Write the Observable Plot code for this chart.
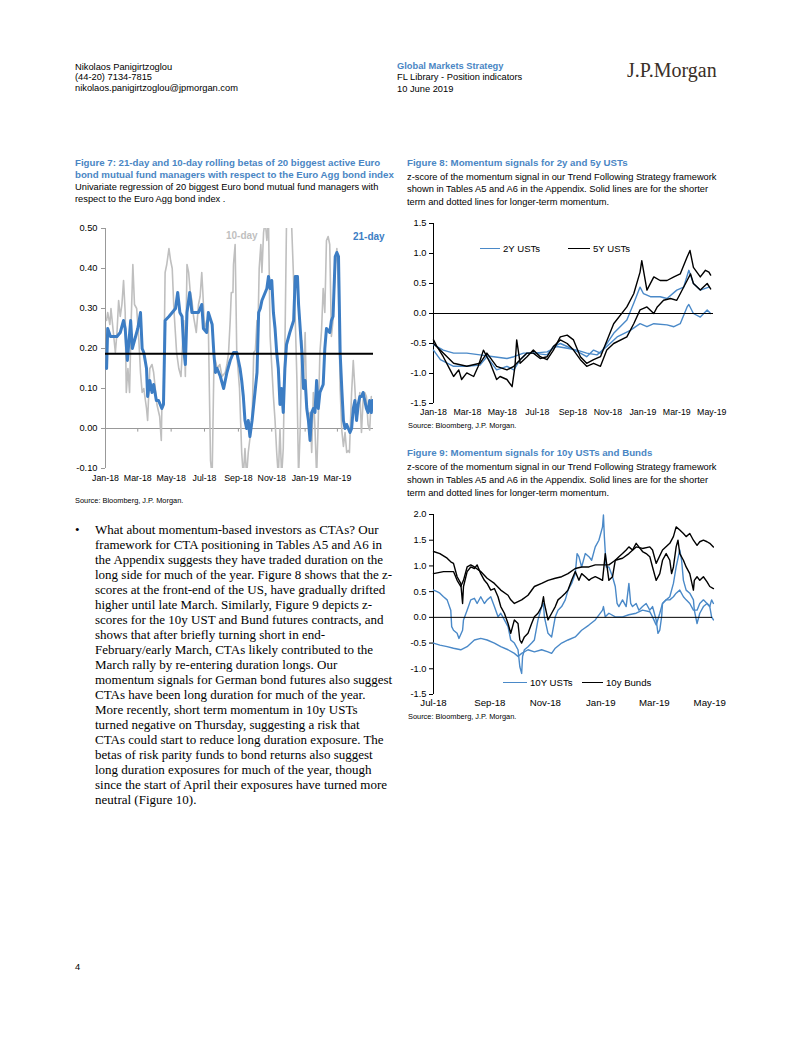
<!DOCTYPE html>
<html><head><meta charset="utf-8">
<script src="https://cdn.jsdelivr.net/npm/d3@7"></script>
<script src="https://cdn.jsdelivr.net/npm/@observablehq/plot@0.6"></script>
<style>
html,body{margin:0;padding:0;background:#fff;}
body{width:802px;height:1037px;position:relative;overflow:hidden;font-family:"Liberation Sans",Arial,sans-serif;color:#000;}
.a{position:absolute;white-space:nowrap;}
.hdr{font-size:9.3px;line-height:10.7px;}
.ttl{font-weight:bold;color:#4A86C4;font-size:9.7px;line-height:12px;}
.sub{font-size:9.3px;line-height:12.6px;}
.src{font-size:7.4px;}
.body{font-family:"Liberation Serif","Times New Roman",serif;font-size:13px;line-height:15px;}
.leg{font-size:9.6px;line-height:12px;}
.sw{position:absolute;height:0;}
</style></head><body>

<div class="a hdr" style="left:75px;top:61.5px;">Nikolaos Panigirtzoglou<br>(44-20) 7134-7815<br>nikolaos.panigirtzoglou@jpmorgan.com</div>
<div class="a hdr" style="left:397px;top:60.5px;color:#4A86C4;font-weight:bold;">Global Markets Strategy</div>
<div class="a hdr" style="left:397px;top:71.5px;">FL Library - Position indicators</div>
<div class="a hdr" style="left:397px;top:84px;">10 June 2019</div>
<div class="a" style="left:627px;top:59px;font-family:'Liberation Serif',serif;font-size:20px;line-height:22px;color:#3a2f27;">J.P.Morgan</div>

<div class="a ttl" style="left:75px;top:157px;">Figure 7: 21-day and 10-day rolling betas of 20 biggest active Euro<br>bond mutual fund managers with respect to the Euro Agg bond index</div>
<div class="a sub" style="left:75px;top:181px;line-height:12px;">Univariate regression of 20 biggest Euro bond mutual fund managers with<br>respect to the Euro Agg bond index .</div>
<div id="f7" class="a" style="left:58px;top:218px;"></div>
<div class="a" style="left:226px;top:230px;font-size:10px;font-weight:bold;color:#BFBFBF;">10-day</div>
<div class="a" style="left:353px;top:231px;font-size:10px;font-weight:bold;color:#3C7DC4;">21-day</div>
<div class="a src" style="left:75px;top:495.5px;">Source: Bloomberg, J.P. Morgan.</div>

<div class="a ttl" style="left:407px;top:157px;">Figure 8: Momentum signals for 2y and 5y USTs</div>
<div class="a sub" style="left:407px;top:170.5px;">z-score of the momentum signal in our Trend Following Strategy framework<br>shown in Tables A5 and A6 in the Appendix. Solid lines are for the shorter<br>term and dotted lines for longer-term momentum.</div>
<div id="f8" class="a" style="left:405px;top:213px;"></div>
<div class="sw" style="left:480px;top:248px;width:20px;border-top:1.5px solid #4A89C8;"></div>
<div class="a leg" style="left:503px;top:243px;">2Y USTs</div>
<div class="sw" style="left:568px;top:248px;width:22px;border-top:1.5px solid #000;"></div>
<div class="a leg" style="left:593px;top:243px;">5Y USTs</div>
<div class="a src" style="left:408px;top:421px;">Source: Bloomberg, J.P. Morgan.</div>

<div class="a ttl" style="left:407px;top:447px;">Figure 9: Momentum signals for 10y USTs and Bunds</div>
<div class="a sub" style="left:407px;top:460.5px;line-height:13.3px;">z-score of the momentum signal in our Trend Following Strategy framework<br>shown in Tables A5 and A6 in the Appendix. Solid lines are for the shorter<br>term and dotted lines for longer-term momentum.</div>
<div id="f9" class="a" style="left:405px;top:505px;"></div>
<div class="sw" style="left:503px;top:682px;width:24px;border-top:1.5px solid #4A89C8;"></div>
<div class="a leg" style="left:530px;top:677px;">10Y USTs</div>
<div class="sw" style="left:582px;top:682px;width:21px;border-top:1.5px solid #000;"></div>
<div class="a leg" style="left:606px;top:677px;">10y Bunds</div>
<div class="a src" style="left:408px;top:711.5px;">Source: Bloomberg, J.P. Morgan.</div>

<div class="a body" style="left:75px;top:521.5px;">•</div>
<div class="a body" style="left:95px;top:521.5px;">What about momentum-based investors as CTAs? Our<br>framework for CTA positioning in Tables A5 and A6 in<br>the Appendix suggests they have traded duration on the<br>long side for much of the year. Figure 8 shows that the z-<br>scores at the front-end of the US, have gradually drifted<br>higher until late March. Similarly, Figure 9 depicts z-<br>scores for the 10y UST and Bund futures contracts, and<br>shows that after briefly turning short in end-<br>February/early March, CTAs likely contributed to the<br>March rally by re-entering duration longs. Our<br>momentum signals for German bond futures also suggest<br>CTAs have been long duration for much of the year.<br>More recently, short term momentum in 10y USTs<br>turned negative on Thursday, suggesting a risk that<br>CTAs could start to reduce long duration exposure. The<br>betas of risk parity funds to bond returns also suggest<br>long duration exposures for much of the year, though<br>since the start of April their exposures have turned more<br>neutral (Figure 10).</div>

<div class="a hdr" style="left:75px;top:962px;">4</div>

<script>
// ---------- Figure 7 data: [days since 2018-01-01, beta] ----------
const f7Start = "2018-01-01";
const f7End = "2019-05-06";
const f7Beta21 = [[2,0.15],[4,0.25],[9,0.23],[15,0.23],[21,0.23],[27,0.24],[33,0.27],[36,0.25],[40,0.17],[43,0.22],[46,0.27],[49,0.20],[55,0.23],[59,0.25],[64,0.29],[67,0.20],[70,0.19],[75,0.15],[77,0.08],[81,0.12],[85,0.09],[88,0.11],[93,0.07],[97,0.07],[103,0.05],[106,0.06],[109,0.27],[116,0.28],[122,0.29],[128,0.30],[132,0.34],[136,0.29],[140,0.28],[143,0.20],[146,0.16],[149,0.29],[154,0.34],[158,0.29],[164,0.29],[170,0.29],[176,0.31],[179,0.25],[185,0.24],[188,0.29],[195,0.26],[198,0.19],[201,0.14],[204,0.15],[210,0.13],[216,0.10],[222,0.14],[228,0.17],[234,0.19],[240,0.19],[246,0.15],[249,0.12],[252,0.08],[255,0.02],[258,0.00],[261,0.02],[264,-0.02],[268,0.02],[271,0.06],[277,0.14],[280,0.29],[283,0.30],[286,0.32],[292,0.34],[295,0.35],[298,0.38],[301,0.35],[304,0.37],[307,0.29],[310,0.25],[313,0.19],[316,0.15],[319,0.06],[322,0.10],[325,0.04],[328,0.15],[331,0.21],[337,0.24],[344,0.27],[347,0.38],[351,0.38],[353,0.31],[356,0.25],[359,0.19],[362,0.10],[365,0.12],[368,0.05],[371,0.02],[374,-0.03],[377,0.04],[380,0.05],[383,0.04],[386,0.12],[389,0.05],[392,0.09],[398,0.11],[401,0.20],[404,0.25],[410,0.24],[413,0.27],[416,0.28],[420,0.43],[423,0.44],[426,0.43],[429,0.19],[432,0.10],[435,0.02],[438,0.00],[441,0.01],[447,-0.01],[450,0.00],[453,0.05],[456,0.07],[459,0.02],[462,0.06],[465,0.08],[468,0.08],[471,0.09],[477,0.05],[480,0.04],[483,0.07],[486,0.04],[488,0.07]];
const f7Beta10 = [[2,0.27],[4,0.29],[8,0.26],[10,0.30],[14,0.245],[18,0.19],[21,0.24],[24,0.32],[27,0.28],[30,0.31],[33,0.37],[36,0.29],[38,0.09],[41,0.15],[44,0.09],[47,0.27],[50,0.41],[53,0.31],[57,0.30],[61,0.22],[64,0.14],[67,0.09],[70,0.10],[75,0.05],[77,0.02],[81,0.15],[85,0.16],[88,0.14],[94,0.06],[99,0.03],[102,-0.03],[103,0.05],[106,0.07],[109,0.39],[112,0.41],[116,0.45],[119,0.42],[122,0.40],[125,0.30],[130,0.19],[134,0.15],[138,0.13],[143,0.27],[146,0.13],[149,0.41],[152,0.39],[155,0.34],[158,0.32],[161,0.28],[166,0.24],[170,0.31],[173,0.33],[176,0.39],[178,0.34],[181,0.25],[185,0.27],[188,0.26],[192,-0.08],[195,-0.12],[198,0.14],[201,0.17],[204,0.15],[209,0.16],[213,0.13],[219,0.14],[222,0.16],[225,0.19],[228,0.27],[230,0.34],[233,0.34],[234,0.41],[237,0.46],[240,0.19],[245,0.10],[249,-0.06],[252,-0.12],[255,-0.05],[258,-0.12],[261,-0.06],[268,0.02],[271,0.19],[274,0.195],[277,0.27],[278,0.20],[281,0.40],[284,0.46],[286,0.39],[289,0.49],[292,0.52],[295,0.47],[298,0.52],[301,0.23],[307,0.08],[310,0.02],[313,-0.06],[316,-0.12],[319,0.00],[322,-0.12],[325,-0.05],[328,0.20],[331,0.52],[334,0.52],[337,0.52],[340,0.52],[344,0.37],[347,0.27],[350,0.12],[353,-0.12],[354,-0.08],[356,0.00],[359,0.22],[362,0.12],[365,0.24],[368,0.05],[371,0.02],[374,0.04],[377,-0.06],[380,0.09],[383,0.00],[386,-0.12],[389,0.02],[392,0.19],[395,0.245],[398,0.35],[401,0.29],[404,0.47],[407,0.48],[410,0.46],[413,0.23],[416,0.27],[420,0.41],[423,0.45],[426,0.35],[429,0.10],[432,-0.004],[435,-0.045],[438,-0.01],[441,-0.06],[444,-0.055],[446,-0.06],[448,0.02],[450,0.09],[453,0.17],[456,0.10],[459,0.02],[462,0.05],[465,0.09],[468,-0.01],[471,0.07],[474,0.09],[477,0.08],[480,0.01],[483,-0.004],[486,0.08]];
const f7Average = [0.187];
const f7XTicks = ["2018-01-01","2018-03-01","2018-05-01","2018-07-01","2018-09-01","2018-11-01","2019-01-01","2019-03-01"];
const f7YTicks = [-0.1,0,0.1,0.2,0.3,0.4,0.5];

// ---------- Figure 8 data: [days since 2018-01-01, z-score] ----------
const f8Start = "2018-01-01";
const f8End = "2019-05-04";
const f8TwoYShort = [[0,-0.61],[12,-0.77],[35,-0.88],[58,-0.88],[81,-0.86],[93,-0.72],[110,-0.94],[128,-0.88],[140,-0.94],[151,-0.77],[163,-0.66],[174,-0.66],[198,-0.69],[209,-0.55],[221,-0.50],[233,-0.55],[256,-0.66],[267,-0.72],[279,-0.61],[291,-0.66],[314,-0.33],[337,-0.11],[349,0.17],[360,0.44],[366,0.33],[378,0.28],[395,0.28],[407,0.25],[424,0.39],[436,0.44],[445,0.72],[453,0.50],[465,0.39],[480,0.44]];
const f8TwoYLong = [[0,-0.52],[17,-0.61],[35,-0.66],[58,-0.66],[81,-0.69],[105,-0.72],[128,-0.75],[140,-0.72],[157,-0.66],[174,-0.66],[198,-0.64],[215,-0.55],[233,-0.58],[250,-0.61],[267,-0.66],[285,-0.69],[302,-0.55],[320,-0.39],[343,-0.28],[360,-0.17],[372,-0.22],[384,-0.17],[407,-0.19],[419,-0.22],[430,-0.17],[442,0.11],[445,0.15],[453,0.00],[465,-0.06],[477,0.06],[483,0.00]];
const f8FiveYShort = [[0,-0.44],[6,-0.55],[17,-0.72],[29,-0.94],[35,-1.05],[44,-0.94],[49,-1.10],[58,-0.99],[70,-1.05],[78,-0.88],[87,-0.61],[99,-0.83],[110,-1.10],[116,-1.05],[128,-1.10],[137,-1.22],[142,-0.88],[145,-0.44],[151,-0.83],[163,-0.72],[174,-0.61],[186,-0.72],[198,-0.77],[209,-0.61],[221,-0.39],[233,-0.36],[244,-0.44],[256,-0.72],[267,-0.83],[279,-0.77],[291,-0.72],[314,-0.17],[337,0.11],[349,0.33],[360,0.69],[363,0.88],[372,0.39],[384,0.61],[395,0.55],[407,0.55],[419,0.61],[430,0.66],[442,0.94],[447,1.05],[453,0.77],[465,0.61],[474,0.72],[480,0.69],[483,0.64]];
const f8FiveYLong = [[0,-0.50],[17,-0.66],[35,-0.83],[58,-0.88],[81,-0.83],[93,-0.66],[110,-0.88],[128,-0.94],[140,-0.88],[151,-0.77],[163,-0.66],[174,-0.66],[186,-0.75],[198,-0.72],[209,-0.55],[221,-0.44],[233,-0.50],[244,-0.61],[256,-0.77],[267,-0.88],[279,-0.83],[291,-0.88],[302,-0.61],[314,-0.50],[337,-0.39],[349,-0.17],[360,0.06],[372,0.11],[384,0.00],[390,0.11],[401,0.22],[413,0.25],[424,0.22],[430,0.33],[442,0.55],[448,0.66],[453,0.50],[465,0.39],[477,0.50],[483,0.41]];
const f8XTicks = ["2018-01-01","2018-03-01","2018-05-01","2018-07-01","2018-09-01","2018-11-01","2019-01-01","2019-03-01","2019-05-01"];
const f8YTicks = [-1.5,-1,-0.5,0,0.5,1,1.5];

// ---------- Figure 9 data: [days since 2018-07-01, z-score] ----------
const f9Start = "2018-07-01";
const f9End = "2019-05-04";
const f9UstShort = [[0,0.53],[4,0.50],[7,0.47],[11,0.40],[15,0.34],[19,0.14],[20,-0.18],[22,-0.25],[26,-0.31],[28,-0.41],[32,-0.25],[33,-0.05],[37,0.14],[41,0.34],[45,0.37],[48,0.27],[52,0.40],[56,0.27],[59,0.34],[63,0.40],[67,0.21],[71,0.01],[74,0.08],[78,-0.05],[82,-0.18],[85,-0.44],[89,-0.50],[93,-0.63],[95,-0.96],[97,-1.09],[98,-0.76],[100,-0.63],[104,-0.57],[108,-0.50],[111,-0.44],[115,-0.05],[119,0.21],[121,0.27],[122,0.01],[126,-0.31],[130,-0.38],[134,0.01],[137,0.14],[141,0.21],[145,0.34],[148,0.53],[152,0.66],[156,0.85],[158,1.24],[160,1.18],[163,0.98],[167,1.24],[171,1.18],[174,1.11],[178,1.37],[182,1.50],[186,1.76],[187,1.99],[188,1.57],[190,0.98],[193,0.98],[197,0.79],[200,0.60],[202,0.27],[204,0.21],[208,0.34],[212,0.21],[215,0.66],[217,0.27],[219,0.21],[223,0.27],[226,0.14],[230,0.21],[234,0.27],[238,0.14],[241,0.21],[245,-0.05],[247,-0.31],[249,-0.25],[251,0.01],[252,0.27],[256,0.34],[260,0.40],[264,0.66],[267,0.98],[271,1.31],[273,1.11],[275,0.72],[278,0.53],[282,0.47],[286,0.34],[287,0.14],[290,-0.12],[293,0.08],[297,0.21],[301,0.27],[304,0.21],[306,0.01],[308,-0.05]];
const f9UstLong = [[0,-0.50],[7,-0.54],[15,-0.57],[22,-0.60],[30,-0.63],[37,-0.57],[45,-0.44],[52,-0.41],[59,-0.44],[67,-0.50],[74,-0.57],[82,-0.63],[89,-0.70],[93,-0.76],[97,-0.70],[104,-0.63],[111,-0.67],[119,-0.63],[126,-0.67],[130,-0.70],[134,-0.60],[141,-0.50],[148,-0.44],[156,-0.38],[163,-0.25],[171,-0.15],[178,-0.05],[186,0.14],[187,0.21],[189,0.01],[193,0.08],[200,0.01],[208,0.01],[215,0.05],[223,0.08],[230,0.14],[238,0.11],[241,0.01],[245,-0.15],[249,0.08],[252,0.27],[256,0.34],[260,0.34],[264,0.40],[267,0.47],[271,0.53],[275,0.40],[278,0.34],[282,0.27],[286,0.14],[290,0.14],[293,0.27],[297,0.34],[301,0.27],[304,0.21],[306,0.34],[308,0.27]];
const f9BundShort = [[0,1.28],[7,1.24],[15,1.15],[19,1.08],[22,1.05],[26,0.79],[30,0.66],[32,0.27],[33,0.60],[37,0.89],[41,0.98],[45,0.95],[48,1.02],[52,0.85],[56,0.72],[59,0.66],[63,0.53],[67,0.56],[71,0.40],[74,0.21],[78,0.08],[82,-0.12],[85,-0.31],[87,-0.18],[89,-0.05],[93,-0.12],[95,-0.44],[97,-0.50],[100,-0.38],[104,-0.31],[108,-0.12],[111,0.01],[115,0.08],[119,0.21],[121,0.40],[122,0.27],[126,-0.05],[130,0.08],[134,0.21],[137,0.34],[141,0.40],[145,0.47],[148,0.53],[152,0.72],[156,0.89],[160,0.72],[163,0.85],[167,0.79],[171,0.72],[174,0.76],[178,0.79],[182,0.76],[186,0.72],[189,1.24],[191,0.98],[193,0.72],[197,0.79],[200,1.11],[204,1.18],[208,1.24],[212,1.31],[215,1.37],[219,1.31],[223,1.44],[226,1.37],[230,1.28],[234,1.24],[238,1.18],[241,0.98],[245,0.72],[249,0.85],[252,1.11],[256,1.24],[260,1.11],[262,0.85],[264,0.98],[267,1.37],[269,1.50],[271,1.24],[275,1.11],[278,0.98],[282,0.85],[286,0.53],[287,0.72],[290,0.79],[293,0.72],[297,0.79],[301,0.69],[304,0.60],[308,0.56]];
const f9BundLong = [[0,0.85],[11,0.89],[22,0.89],[26,0.72],[30,0.60],[33,0.72],[37,0.98],[41,1.02],[45,0.98],[52,0.89],[59,0.76],[67,0.66],[74,0.53],[82,0.43],[85,0.34],[89,0.27],[97,0.34],[104,0.43],[111,0.60],[119,0.66],[126,0.72],[134,0.76],[141,0.79],[148,0.85],[156,0.95],[163,0.98],[171,0.98],[178,1.02],[186,1.02],[193,1.02],[200,1.11],[208,1.15],[215,1.24],[223,1.37],[230,1.34],[238,1.37],[241,1.31],[245,1.05],[252,1.31],[260,1.44],[264,1.57],[267,1.76],[271,1.70],[275,1.63],[278,1.57],[282,1.63],[286,1.50],[290,1.40],[293,1.47],[297,1.50],[301,1.47],[304,1.44],[308,1.37]];
const f9XTicks = ["2018-07-01","2018-09-01","2018-11-01","2019-01-01","2019-03-01","2019-05-01"];
const f9YTicks = [-1.5,-1,-0.5,0,0.5,1,1.5,2];

// ---------- helpers ----------
const BLUE = "#4A89C8";
const parse = s => new Date(s + "T00:00:00Z");
const rows = (arr, start) => { const b = parse(start); return arr.map(([d, v]) => ({date: d3.utcDay.offset(b, d), value: v})); };
const fmtMonth = d3.utcFormat("%b-%y");
const FONT = {fontFamily: "'Liberation Sans', Arial, sans-serif", fontSize: "9px", color: "#000", background: "transparent", overflow: "visible"};

// ---------- Figure 7 ----------
const f7 = Plot.plot({
  width: 330, height: 270, marginLeft: 47, marginRight: 15, marginTop: 10, marginBottom: 20,
  style: FONT,
  x: {type: "utc", domain: [parse(f7Start), parse(f7End)], label: null},
  y: {domain: [-0.1, 0.5], label: null},
  marks: [
    Plot.ruleY([0], {stroke: "#999", strokeWidth: 1}),
    Plot.ruleX(f7XTicks.map(parse), {y1: 0, y2: -0.009, stroke: "#999"}),
    Plot.ruleX([parse(f7Start)], {stroke: "#999"}),
    Plot.axisY({ticks: f7YTicks, tickFormat: d => d.toFixed(2), tickSize: 4, tickPadding: 4, stroke: "#999", fill: "#000", fontSize: 9.3}),
    Plot.axisX({ticks: f7XTicks.map(parse), tickFormat: fmtMonth, tickSize: 0, tickPadding: 6, fill: "#000", fontSize: 8.8}),
    Plot.line(rows(f7Beta10, f7Start), {x: "date", y: "value", stroke: "#BFBFBF", strokeWidth: 1.6, clip: true}),
    Plot.line(rows(f7Beta21, f7Start), {x: "date", y: "value", stroke: "#3C7DC4", strokeWidth: 3, clip: true}),
    Plot.ruleY(f7Average, {stroke: "#000", strokeWidth: 2})
  ]
});
document.getElementById("f7").appendChild(f7);

// ---------- Figure 8 ----------
const f8 = Plot.plot({
  width: 320, height: 205, marginLeft: 28, marginRight: 12, marginTop: 10, marginBottom: 15,
  style: FONT,
  x: {type: "utc", domain: [parse(f8Start), parse(f8End)], label: null},
  y: {domain: [-1.5, 1.5], label: null},
  marks: [
    Plot.ruleX([parse(f8Start)], {stroke: "#000"}),
    Plot.axisY({ticks: f8YTicks, tickFormat: d => d.toFixed(1), tickSize: 4, tickPadding: 3, stroke: "#000", fill: "#000", fontSize: 9.3}),
    Plot.axisX({ticks: f8XTicks.map(parse), tickFormat: fmtMonth, tickSize: 0, tickPadding: 5.5, fill: "#000", fontSize: 8.8}),
    Plot.line(rows(f8TwoYLong, f8Start), {x: "date", y: "value", stroke: BLUE, strokeWidth: 1.4}),
    Plot.line(rows(f8TwoYShort, f8Start), {x: "date", y: "value", stroke: BLUE, strokeWidth: 1.4}),
    Plot.line(rows(f8FiveYLong, f8Start), {x: "date", y: "value", stroke: "#000", strokeWidth: 1.4}),
    Plot.line(rows(f8FiveYShort, f8Start), {x: "date", y: "value", stroke: "#000", strokeWidth: 1.4}),
    Plot.ruleY([0], {stroke: "#000", strokeWidth: 1})
  ]
});
document.getElementById("f8").appendChild(f8);

// ---------- Figure 9 ----------
const f9 = Plot.plot({
  width: 320, height: 205, marginLeft: 28, marginRight: 13, marginTop: 9, marginBottom: 16,
  style: FONT,
  x: {type: "utc", domain: [parse(f9Start), parse(f9End)], label: null},
  y: {domain: [-1.5, 2], label: null},
  marks: [
    Plot.ruleX([parse(f9Start)], {stroke: "#000"}),
    Plot.axisY({ticks: f9YTicks, tickFormat: d => d.toFixed(1), tickSize: 4, tickPadding: 3, stroke: "#000", fill: "#000", fontSize: 9.3}),
    Plot.axisX({ticks: f9XTicks.map(parse), tickFormat: fmtMonth, tickSize: 0, tickPadding: 5, fill: "#000", fontSize: 9.7}),
    Plot.line(rows(f9UstLong, f9Start), {x: "date", y: "value", stroke: BLUE, strokeWidth: 1.4}),
    Plot.line(rows(f9UstShort, f9Start), {x: "date", y: "value", stroke: BLUE, strokeWidth: 1.4}),
    Plot.line(rows(f9BundLong, f9Start), {x: "date", y: "value", stroke: "#000", strokeWidth: 1.4}),
    Plot.line(rows(f9BundShort, f9Start), {x: "date", y: "value", stroke: "#000", strokeWidth: 1.4}),
    Plot.ruleY([0], {stroke: "#000", strokeWidth: 1})
  ]
});
document.getElementById("f9").appendChild(f9);
</script>
</body></html>
